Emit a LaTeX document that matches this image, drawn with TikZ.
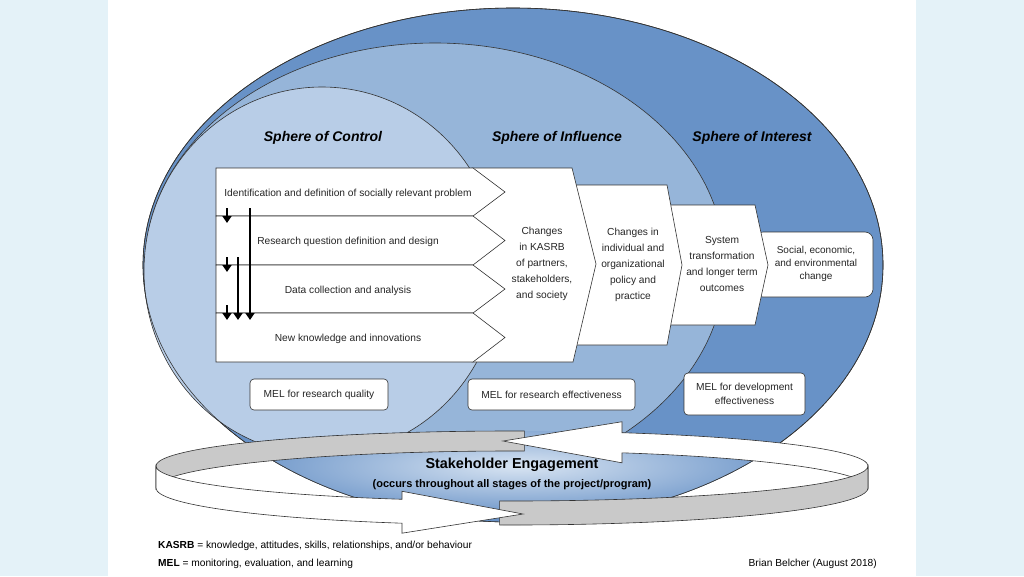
\documentclass[tikz,border=0pt]{standalone}
\usepackage{fontspec}
\setmainfont{Liberation Sans}
\usetikzlibrary{arrows.meta,calc}
\definecolor{pagebg}{HTML}{E4F2F8}
\definecolor{outerB}{HTML}{6892C7}
\definecolor{midB}{HTML}{96B5D9}
\definecolor{innerB}{HTML}{B8CDE7}
\definecolor{lightB}{HTML}{D8E4F2}
\definecolor{ringgrey}{HTML}{C9C9C9}
\definecolor{edge}{HTML}{333333}
\begin{document}
\begin{tikzpicture}[x=1pt,y=-1pt,
  sph/.style={draw=edge,line width=0.6pt},
  wbox/.style={draw=edge,fill=white,line width=0.6pt},
  lbl/.style={font=\fontsize{10.2}{16}\selectfont,align=center,text=black!85,inner sep=0pt},
  lbl5/.style={font=\fontsize{10}{13}\selectfont,align=center,text=black!85,inner sep=0pt},
  rowtxt/.style={font=\fontsize{10.2}{12}\selectfont,text=black!85,inner sep=0pt},
  title/.style={font=\fontsize{14}{16}\selectfont\bfseries\itshape,inner sep=0pt},
  melbox/.style={draw=edge,fill=white,line width=0.6pt,rounded corners=4pt,inner sep=0pt,font=\fontsize{10.2}{14}\selectfont,align=center,text=black!85},
  downarrow/.style={line width=2.4pt,-{Triangle[width=9pt,length=7pt]}},
  ringline/.style={draw=edge,line width=0.6pt},
  foot/.style={font=\fontsize{10.2}{12}\selectfont,inner sep=0pt}
]
\useasboundingbox (0,0) rectangle (1024,576);
\fill[pagebg] (0,0) rectangle (1024,576);
\fill[white] (108,0) rectangle (916,576);

% spheres
\filldraw[sph,fill=outerB] (513,265) ellipse [x radius=370pt, y radius=257pt];
\filldraw[sph,fill=midB] (435,265) ellipse [x radius=290pt, y radius=222pt];
\filldraw[sph,fill=innerB] (322,271) ellipse [x radius=178pt, y radius=184pt];

% shaded base under the ring
\begin{scope}
  \clip (513,265) ellipse [x radius=370pt, y radius=257pt];
  \clip ([shift={(512,466)}]180:356pt and 35pt) arc[start angle=180,end angle=0,x radius=356pt,y radius=35pt] -- (868,600) -- (156,600) -- cycle;
  \fill[outerB] (100,400) rectangle (900,600);
  \shade[inner color=lightB, outer color=outerB] (518,466) ellipse [x radius=290pt, y radius=52pt];
\end{scope}
\draw[sph] (513,265) ellipse [x radius=370pt, y radius=257pt];

% titles
\node[title] (tctrl) at (323,138) {Sphere of Control};
\node[title] (tinfl) at (557,138) {Sphere of Influence};
\node[title] (tint) at (752,138) {Sphere of Interest};

% outcome boxes (drawn right to left so each overlaps the next)
\filldraw[wbox,rounded corners=8pt] (755,232) rectangle (873,297);
\filldraw[wbox] (660,205) -- (755,205) -- (768,265) -- (755,325) -- (660,325) -- cycle;
\filldraw[wbox] (560,185) -- (667,185) -- (682,265) -- (667,345) -- (560,345) -- cycle;
\filldraw[wbox] (472,168) -- (572,168) -- (596,264) -- (573,362) -- (472,362) -- cycle;

% research stage chevrons
\filldraw[wbox] (216,168) -- (473,168) -- (505,192) -- (473,216) -- (216,216) -- cycle;
\filldraw[wbox] (216,216) -- (473,216) -- (505,240.5) -- (473,265) -- (216,265) -- cycle;
\filldraw[wbox] (216,265) -- (473,265) -- (505,289) -- (473,313) -- (216,313) -- cycle;
\filldraw[wbox] (216,313) -- (473,313) -- (505,337.5) -- (473,362) -- (216,362) -- cycle;

\node[rowtxt] (r1) at (348,193.5) {Identification and definition of socially relevant problem};
\node[rowtxt] (r2) at (348,242) {Research question definition and design};
\node[rowtxt] (r3) at (348,290.5) {Data collection and analysis};
\node[rowtxt] (r4) at (348,339) {New knowledge and innovations};

\node[lbl] (b2) at (542,264) {Changes\\in KASRB\\of partners,\\stakeholders,\\and society};
\node[lbl] (b3) at (633,265) {Changes in\\individual and\\organizational\\policy and\\practice};
\node[lbl] (b4) at (722,264) {System\\transformation\\and longer term\\outcomes};
\node[lbl5] (b5) at (816,264) {Social, economic,\\and environmental\\change};

% feedback arrows
\coordinate (s1a) at (227,208); \coordinate (s1b) at (227,223);
\coordinate (s2a) at (227,257); \coordinate (s2b) at (227,272);
\coordinate (s3a) at (227,305); \coordinate (s3b) at (227,320);
\coordinate (l1a) at (238,257); \coordinate (l1b) at (238,320);
\coordinate (l2a) at (250,208); \coordinate (l2b) at (250,320);
\draw[downarrow] (s1a) -- (s1b);
\draw[downarrow] (s2a) -- (s2b);
\draw[downarrow] (s3a) -- (s3b);
\draw[downarrow] (l1a) -- (l1b);
\draw[downarrow] (l2a) -- (l2b);

% MEL boxes
\node[melbox,minimum width=138pt,minimum height=31pt] (mq) at (319,394.5) {MEL for research quality};
\node[melbox,minimum width=167pt,minimum height=31pt] (me) at (551.5,394.5) {MEL for research effectiveness};
\node[melbox,minimum width=121pt,minimum height=42pt] (md) at (744.5,394) {MEL for development\\effectiveness};

% stakeholder engagement ring
\coordinate (T0) at ([shift={(512,466)}]0:356pt and 35pt);
\coordinate (T72) at ([shift={(512,466)}]72:356pt and 35pt);
\coordinate (T88) at ([shift={(512,466)}]88:356pt and 35pt);
\coordinate (T180) at ([shift={(512,466)}]180:356pt and 35pt);
\coordinate (T252) at ([shift={(512,466)}]252:356pt and 35pt);
\coordinate (T268) at ([shift={(512,466)}]268:356pt and 35pt);
\coordinate (B0) at ([shift={(512,488)}]0:356pt and 37pt);
\coordinate (B72) at ([shift={(512,488)}]72:356pt and 37pt);
\coordinate (B88) at ([shift={(512,488)}]88:356pt and 37pt);
\coordinate (B180) at ([shift={(512,488)}]180:356pt and 37pt);
\coordinate (B252) at ([shift={(512,488)}]252:356pt and 37pt);
\coordinate (B268) at ([shift={(512,488)}]268:356pt and 37pt);
\coordinate (tipB) at (503,441);
\coordinate (tipA) at (523,514);

% arrow A, back part (grey)
\filldraw[ringline,fill=ringgrey] (T88) arc[start angle=88,end angle=180,x radius=356pt,y radius=35pt]
  -- (B180) arc[start angle=180,end angle=88,x radius=356pt,y radius=37pt] -- cycle;
% arrow B, back part (white) with head
\filldraw[ringline,fill=white] (T0) arc[start angle=0,end angle=72,x radius=356pt,y radius=35pt]
  -- ($(T72)+(0,-11)$) -- (tipB) -- ($(B72)+(0,10)$) -- (B72)
  arc[start angle=72,end angle=0,x radius=356pt,y radius=37pt] -- cycle;
% arrow B, front part (grey)
\filldraw[ringline,fill=ringgrey] (T268) arc[start angle=268,end angle=360,x radius=356pt,y radius=35pt]
  -- (B0) arc[start angle=360,end angle=268,x radius=356pt,y radius=37pt] -- cycle;
% arrow A, front part (white) with head
\filldraw[ringline,fill=white] (T180) arc[start angle=180,end angle=252,x radius=356pt,y radius=35pt]
  -- ($(T252)+(0,-8)$) -- (tipA) -- ($(B252)+(0,10)$) -- (B252)
  arc[start angle=252,end angle=180,x radius=356pt,y radius=37pt] -- cycle;

\node[font=\fontsize{14.4}{16}\selectfont\bfseries,inner sep=0pt] (se) at (512,465) {Stakeholder Engagement};
\node[font=\fontsize{11}{13}\selectfont\bfseries,inner sep=0pt] (se2) at (512,485) {(occurs throughout all stages of the project/program)};

% footer
\node[foot,anchor=base west] (kasrb) at (158,548) {\textbf{KASRB} = knowledge, attitudes, skills, relationships, and/or behaviour};
\node[foot,anchor=base west] (melf) at (158,566) {\textbf{MEL} = monitoring, evaluation, and learning};
\node[foot,anchor=base east] (auth) at (877,566) {Brian Belcher (August 2018)};
\end{tikzpicture}
\end{document}
